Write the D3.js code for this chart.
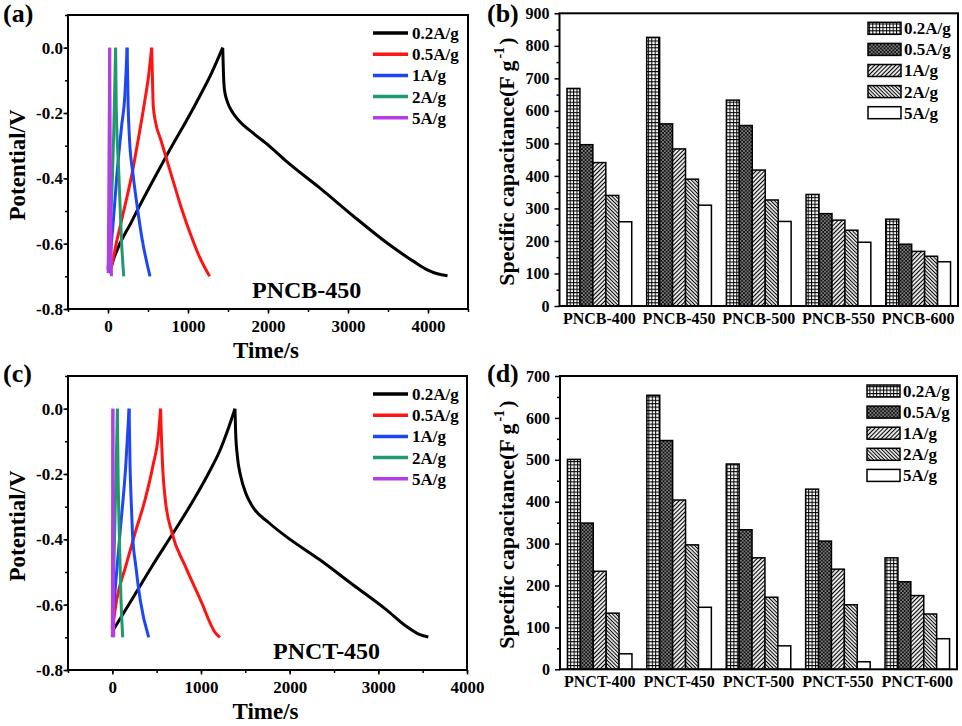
<!DOCTYPE html>
<html>
<head>
<meta charset="utf-8">
<script src="https://cdn.jsdelivr.net/npm/d3@7"></script>
<style>
  body { margin: 0; background: #fff; }
  svg text { font-family: "Liberation Serif", "Times New Roman", serif; font-weight: bold; fill: #000; }
</style>
</head>
<body>
<svg id="fig" width="962" height="726"></svg>
<script>
// ---- data ----
const rates = ["0.2A/g", "0.5A/g", "1A/g", "2A/g", "5A/g"];
const lineColors = ["#000000", "#ff1414", "#1e46f5", "#1f9a6e", "#b43ee6"];
const barFills = ["url(#grid)", "url(#dots)", "url(#fwd)", "url(#back)", "#fff"];

const pncbSamples = ["PNCB-400", "PNCB-450", "PNCB-500", "PNCB-550", "PNCB-600"];
const pnctSamples = ["PNCT-400", "PNCT-450", "PNCT-500", "PNCT-550", "PNCT-600"];

// specific capacitance (F/g), one array per current density
const pncbCap02 = [669, 826, 633, 343, 267];
const pncbCap05 = [496, 560, 555, 284, 190];
const pncbCap1 = [441, 483, 418, 264, 168];
const pncbCap2 = [340, 390, 326, 233, 153];
const pncbCap5 = [259, 310, 260, 196, 136];

const pnctCap02 = [501, 654, 490, 430, 266];
const pnctCap05 = [349, 546, 333, 306, 209];
const pnctCap1 = [234, 404, 266, 239, 176];
const pnctCap2 = [134, 297, 172, 154, 132];
const pnctCap5 = [37, 148, 56, 18, 73];

// galvanostatic charge/discharge curves [time s, potential V]
const pncbGcd02 = [[30, -0.68], [60, -0.655], [300, -0.53], [700, -0.345], [1100, -0.17], [1300, -0.075], [1434, 0],
  [1443, -0.077], [1455, -0.128], [1497, -0.169], [1560, -0.199], [1644, -0.225], [1811, -0.261], [2021, -0.302], [2231, -0.348], [2650, -0.43], [3069, -0.516], [3489, -0.598], [3824, -0.655], [3992, -0.68], [4118, -0.692], [4244, -0.698]];
const pncbGcd05 = [[10, -0.69], [30, -0.68], [113, -0.588], [210, -0.486], [302, -0.384], [378, -0.281], [449, -0.179], [512, -0.077], [546, 0],
  [554, -0.077], [566, -0.179], [596, -0.23], [659, -0.281], [785, -0.384], [911, -0.486], [1057, -0.588], [1141, -0.639], [1270, -0.7]];
const pncbGcd1 = [[5, -0.69], [60, -0.55], [113, -0.384], [170, -0.24], [210, -0.15], [239, 0],
  [252, -0.179], [269, -0.281], [311, -0.384], [365, -0.486], [428, -0.588], [525, -0.7]];
const pncbGcd2 = [[0, -0.68], [30, -0.55], [72, -0.26], [95, 0],
  [103, -0.179], [135, -0.384], [168, -0.588], [197, -0.7]];
const pncbGcd5 = [[2, -0.69], [10, -0.45], [21, 0], [30, -0.4], [43, -0.7]];

const pnctGcd02 = [[11, -0.677], [219, -0.585], [446, -0.483], [711, -0.37], [937, -0.27], [1100, -0.19], [1202, -0.135], [1315, -0.055], [1383, 0],
  [1391, -0.074], [1410, -0.145], [1448, -0.207], [1504, -0.258], [1580, -0.299], [1769, -0.35], [1958, -0.391], [2336, -0.462], [2713, -0.539], [3092, -0.616], [3318, -0.667], [3469, -0.692], [3564, -0.699]];
const pnctGcd05 = [[0, -0.677], [49, -0.585], [151, -0.483], [257, -0.38], [370, -0.278], [457, -0.176], [522, -0.074], [544, 0],
  [552, -0.074], [567, -0.176], [597, -0.278], [673, -0.38], [824, -0.483], [994, -0.585], [1164, -0.687], [1213, -0.7]];
const pnctGcd1 = [[0, -0.67], [23, -0.585], [87, -0.38], [151, -0.176], [189, 0],
  [200, -0.176], [212, -0.278], [227, -0.38], [265, -0.483], [314, -0.585], [410, -0.7]];
const pnctGcd2 = [[0, -0.67], [20, -0.45], [40, -0.22], [57, 0], [65, -0.2], [80, -0.4], [97, -0.58], [117, -0.7]];
const pnctGcd5 = [[0, -0.7], [3, -0.35], [6, 0], [10, -0.35], [16, -0.7]];

const gcdXTicks = [0, 1000, 2000, 3000, 4000];
const gcdYTicks = [-0.8, -0.6, -0.4, -0.2, 0.0];
const capTicksB = [0, 100, 200, 300, 400, 500, 600, 700, 800, 900];
const capTicksD = [0, 100, 200, 300, 400, 500, 600, 700];

// ---- drawing ----
const serif = '"Liberation Serif", "Times New Roman", serif';
const svg = d3.select("#fig");
const defs = svg.append("defs");

const grid = defs.append("pattern").attr("id", "grid")
  .attr("patternUnits", "userSpaceOnUse").attr("width", 3.4).attr("height", 3.4);
grid.append("rect").attr("width", 3.4).attr("height", 3.4).attr("fill", "#fff");
grid.append("path").attr("d", "M0,0.5H3.4M0.5,0V3.4").attr("stroke", "#000").attr("stroke-width", 1);

const dots = defs.append("pattern").attr("id", "dots")
  .attr("patternUnits", "userSpaceOnUse").attr("width", 3.6).attr("height", 3.6);
dots.append("rect").attr("width", 3.6).attr("height", 3.6).attr("fill", "#111");
dots.append("rect").attr("x", 0.3).attr("y", 0.3).attr("width", 1.2).attr("height", 1.2).attr("fill", "#fff");
dots.append("rect").attr("x", 2.1).attr("y", 2.1).attr("width", 1.2).attr("height", 1.2).attr("fill", "#fff");

const addStripes = (id, size, angle, w) => {
  const p = defs.append("pattern").attr("id", id)
    .attr("patternUnits", "userSpaceOnUse").attr("width", size).attr("height", size)
    .attr("patternTransform", `rotate(${angle})`);
  p.append("rect").attr("width", size).attr("height", size).attr("fill", "#fff");
  p.append("line").attr("x1", size / 2).attr("x2", size / 2).attr("y1", 0).attr("y2", size)
    .attr("stroke", "#000").attr("stroke-width", w);
};
addStripes("fwd", 3, 45, 1.2);
addStripes("back", 2.6, -45, 1.1);

const tag = (x, y, t) => svg.append("text").attr("x", x).attr("y", y)
  .style("font-size", "26px").text(t);

const drawFrame = (g, w, h) => g.append("rect").attr("width", w).attr("height", h)
  .attr("fill", "none").attr("stroke", "#000").attr("stroke-width", 2);

const styleTicks = (g, size) => {
  g.selectAll(".tick line").attr("stroke", "#000").attr("stroke-width", 1.5);
  g.selectAll(".tick text").style("font-size", size).style("font-family", serif)
    .style("font-weight", "bold").attr("fill", "#000");
};

const drawGcd = function(box, xMax, curves, name, namePos) {
  const w = box.right - box.left;
  const h = box.bottom - box.top;
  const g = svg.append("g").attr("transform", `translate(${box.left}, ${box.top})`);

  const x = d3.scaleLinear().domain([-500, xMax]).range([0, w]);
  const y = d3.scaleLinear().domain([-0.8, 0.1]).range([h, 0]);

  // minor ticks
  g.append("g").attr("transform", `translate(0, ${h})`)
    .call(d3.axisBottom(x).tickValues(d3.range(-500, xMax + 1, 500)).tickSize(3).tickFormat(""))
    .call(a => a.select(".domain").remove());
  g.append("g")
    .call(d3.axisLeft(y).tickValues(d3.range(-8, 2).map(d => d / 10)).tickSize(3).tickFormat(""))
    .call(a => a.select(".domain").remove());

  g.append("g").attr("class", "x-axis").attr("transform", `translate(0, ${h})`)
    .call(d3.axisBottom(x).tickValues(gcdXTicks).tickSize(4.5).tickPadding(6.5).tickFormat(d => d))
    .call(a => a.select(".domain").remove());
  g.append("g").attr("class", "y-axis")
    .call(d3.axisLeft(y).tickValues(gcdYTicks).tickSize(4.5).tickPadding(0.5).tickFormat(d => d.toFixed(1)))
    .call(a => a.select(".domain").remove());
  styleTicks(g, "17px");

  const line = d3.line().x(d => x(d[0])).y(d => y(d[1])).curve(d3.curveMonotoneX);
  curves.forEach((pts, i) => {
    const peak = d3.maxIndex(pts, d => d[1]);
    [pts.slice(0, peak + 1), pts.slice(peak)].forEach(seg => {
      g.append("path").attr("d", line(seg)).attr("fill", "none")
        .attr("stroke", lineColors[i]).attr("stroke-width", 3).attr("stroke-linejoin", "round");
    });
  });

  drawFrame(g, w, h);

  // legend
  rates.forEach((r, i) => {
    const ly = 18 + i * 21.2;
    g.append("line").attr("x1", 305).attr("x2", 340).attr("y1", ly).attr("y2", ly)
      .attr("stroke", lineColors[i]).attr("stroke-width", 3.5);
    g.append("text").attr("x", 344).attr("y", ly + 6).style("font-size", "17px").text(r);
  });

  g.append("text").attr("x", namePos[0]).attr("y", namePos[1]).style("font-size", "24px").text(name);

  g.append("text").attr("x", w / 2 - 2).attr("y", h + 49).attr("text-anchor", "middle")
    .style("font-size", "23px").text("Time/s");
  g.append("text").attr("transform", `translate(${25 - box.left}, ${h / 2 + 3}) rotate(-90)`)
    .attr("text-anchor", "middle").style("font-size", "23px").text("Potential/V");
};

const drawBars = function(box, samples, series, yMax, ticks) {
  const w = box.right - box.left;
  const h = box.bottom - box.top;
  const g = svg.append("g").attr("transform", `translate(${box.left}, ${box.top})`);

  const y = d3.scaleLinear().domain([0, yMax]).range([h, 0]);
  const x0 = d3.scaleBand().domain(samples).range([0, w]).paddingInner(0.1875).paddingOuter(0.09375);
  const x1 = d3.scaleBand().domain(rates).range([0, x0.bandwidth()]);

  g.append("g")
    .call(d3.axisLeft(y).tickValues(d3.range(50, yMax, 100)).tickSize(3).tickFormat(""))
    .call(a => a.select(".domain").remove());
  g.append("g")
    .call(d3.axisLeft(y).tickValues(ticks).tickSize(5).tickPadding(5))
    .call(a => a.select(".domain").remove());
  styleTicks(g, "16px");
  const xa = g.append("g").attr("transform", `translate(0, ${h})`)
    .call(d3.axisBottom(x0).tickSize(0).tickPadding(6.5))
    .call(a => a.select(".domain").remove());
  styleTicks(xa, "16px");

  samples.forEach((s, si) => {
    series.forEach((vals, ri) => {
      g.append("rect")
        .attr("x", x0(s) + x1(rates[ri]))
        .attr("y", y(vals[si]))
        .attr("width", x1.bandwidth())
        .attr("height", y(0) - y(vals[si]))
        .attr("fill", barFills[ri])
        .attr("stroke", "#000").attr("stroke-width", 1.5);
    });
  });

  drawFrame(g, w, h);

  rates.forEach((r, i) => {
    const ly = 15 + i * 21.1;
    g.append("rect").attr("x", w - 90).attr("y", ly - 6).attr("width", 33).attr("height", 12)
      .attr("fill", barFills[i]).attr("stroke", "#000").attr("stroke-width", 1.5);
    g.append("text").attr("x", w - 54).attr("y", ly + 6).style("font-size", "17px").text(r);
  });

  const yl = g.append("text").attr("transform", `translate(-46, ${h / 2 + 2}) rotate(-90)`)
    .attr("text-anchor", "middle").style("font-size", "22px");
  yl.append("tspan").text("Specific capacitance(F g");
  yl.append("tspan").attr("dy", -10).attr("dx", 2).style("font-size", "14px").text("-1");
  yl.append("tspan").attr("dy", 10).attr("dx", 2).text(")");
};

drawGcd({ left: 68, top: 15, right: 468, bottom: 309 }, 4500,
  [pncbGcd02, pncbGcd05, pncbGcd1, pncbGcd2, pncbGcd5], "PNCB-450", [184, 283]);
drawGcd({ left: 68, top: 376, right: 467, bottom: 670 }, 4000,
  [pnctGcd02, pnctGcd05, pnctGcd1, pnctGcd2, pnctGcd5], "PNCT-450", [205, 283]);

drawBars({ left: 559.5, top: 13.3, right: 958, bottom: 306 }, pncbSamples,
  [pncbCap02, pncbCap05, pncbCap1, pncbCap2, pncbCap5], 900, capTicksB);
drawBars({ left: 560, top: 376, right: 957, bottom: 669.3 }, pnctSamples,
  [pnctCap02, pnctCap05, pnctCap1, pnctCap2, pnctCap5], 700, capTicksD);

tag(3, 22, "(a)");
tag(487, 22, "(b)");
tag(3, 382, "(c)");
tag(487, 382, "(d)");
</script>
</body>
</html>
